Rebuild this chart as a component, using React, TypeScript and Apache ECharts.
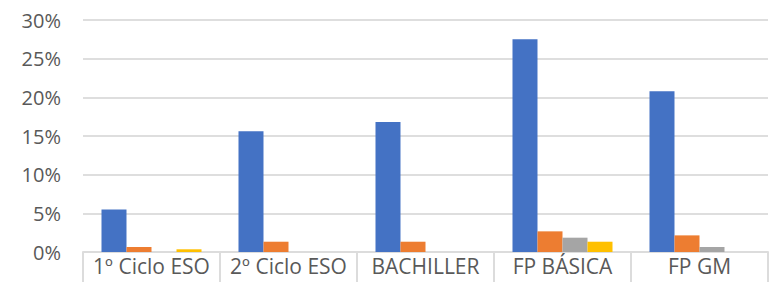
import React, { useEffect, useRef } from "react";
import * as echarts from "echarts";

const categories = ["1º Ciclo ESO", "2º Ciclo ESO", "BACHILLER", "FP BÁSICA", "FP GM"];
const serie1 = [0.055, 0.156, 0.168, 0.275, 0.208];
const serie2 = [0.0065, 0.0133, 0.0133, 0.0267, 0.0215];
const serie3 = [0, 0, 0, 0.0185, 0.0065];
const serie4 = [0.0035, 0, 0, 0.0133, 0];
const seriesNames = ["Serie 1", "Serie 2", "Serie 3", "Serie 4"];
const colors = ["#4472C4", "#ED7D31", "#A5A5A5", "#FFC000"];

export default function App() {
  const ref = useRef<HTMLDivElement>(null);
  useEffect(() => {
    if (!ref.current) return;
    const chart = echarts.init(ref.current, null, { renderer: "svg" });
    const font = "'Open Sans', sans-serif";
    const data = [serie1, serie2, serie3, serie4];
    chart.setOption({
      animation: false,
      grid: { left: 83, right: 1, top: 20, bottom: 30, containLabel: false },
      xAxis: {
        type: "category",
        data: categories,
        axisLine: { show: true, lineStyle: { color: "#DCDCDC", width: 2 } },
        axisTick: { show: true, length: 30, interval: 0, lineStyle: { color: "#DCDCDC", width: 2 } },
        axisLabel: { color: "#595959", fontFamily: font, fontSize: 21, margin: 3, interval: 0 },
      },
      yAxis: {
        type: "value",
        min: 0,
        max: 0.3,
        interval: 0.05,
        axisLine: { show: false },
        axisTick: { show: false },
        splitLine: { lineStyle: { color: "#DEDEDE", width: 2 } },
        axisLabel: {
          color: "#595959",
          fontFamily: font,
          fontSize: 20,
          margin: 22,
          formatter: (v: number) => Math.round(v * 100) + "%",
        },
      },
      series: data.map((d, i) => ({
        name: seriesNames[i],
        type: "bar",
        data: d,
        barGap: "0%",
        barCategoryGap: "27%",
        itemStyle: { color: colors[i] },
      })),
    });
    return () => chart.dispose();
  }, []);
  return (
    <div
      ref={ref}
      style={{ position: "fixed", left: 0, top: 0, width: 769, height: 282, background: "#fff" }}
    />
  );
}
